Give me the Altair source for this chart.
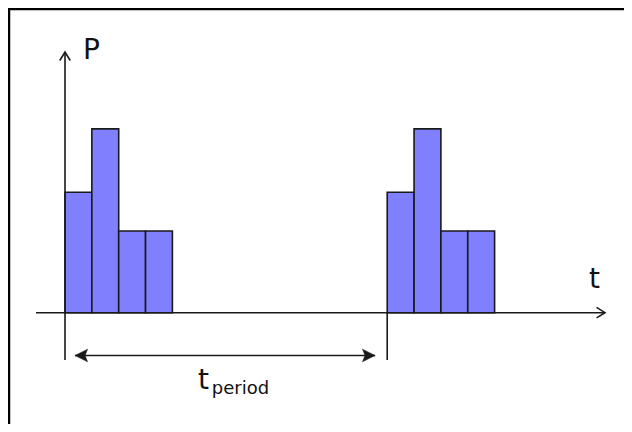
import altair as alt
import pandas as pd

# --- data (t in pulse-slot units, P in arbitrary power units) ---
bar_start = [0, 1, 2, 3, 12, 13, 14, 15]
bar_end = [1, 2, 3, 4, 13, 14, 15, 16]
bar_power = [2.95, 4.5, 2.0, 2.0, 2.95, 4.5, 2.0, 2.0]

# annotation segments (axes, period marker)
seg_x1 = [-1.08, 0, 12, 0.37]
seg_x2 = [20.11, 0, 12, 11.55]
seg_y1 = [0, -1.158, 0, -1.048]
seg_y2 = [0, 6.38, -1.158, -1.048]

# arrow heads
open_head_t = [20.11, 0]
open_head_p = [0, 6.38]
open_head_dir = ["right", "up"]
fill_head_t = [0.37, 11.55]
fill_head_p = [-1.048, -1.048]
fill_head_dir = ["left", "right"]

# labels
label_text = ["P", "t", "t", "period"]
label_t = [0.67, 19.52, 4.95, 5.47]
label_p = [6.20, 0.60, -1.87, -1.99]
label_size = [28, 28, 28, 18]

bars = pd.DataFrame({"t0": bar_start, "t1": bar_end, "P": bar_power})
segs = pd.DataFrame({"x1": seg_x1, "x2": seg_x2, "y1": seg_y1, "y2": seg_y2})
labels = pd.DataFrame({"text": label_text, "t": label_t, "p": label_p, "size": label_size})

W, H = 616, 416
xs = alt.Scale(domain=[-2.123, 20.819], nice=False, zero=False)
ys = alt.Scale(domain=[-2.725, 7.459], nice=False, zero=False)

LINE = "#1a1a1a"

bar_layer = alt.Chart(bars).mark_rect(
    fill="#8080ff", stroke=LINE, strokeWidth=1.6
).encode(
    x=alt.X("t0:Q", scale=xs, axis=None),
    x2="t1:Q",
    y=alt.Y("P:Q", scale=ys, axis=None),
    y2=alt.Y2(datum=0),
)

seg_layer = alt.Chart(segs).mark_rule(color=LINE, strokeWidth=1.6).encode(
    x=alt.X("x1:Q", scale=xs, axis=None),
    x2="x2:Q",
    y=alt.Y("y1:Q", scale=ys, axis=None),
    y2="y2:Q",
)

shapes = {
    "right_open": "M-1.6,-1L0,0L-1.6,1",
    "up_open": "M-1,1.6L0,0L1,1.6",
    "left_fill": "M0,0L2,-1L1.6,0L2,1Z",
    "right_fill": "M0,0L-2,-1L-1.6,0L-2,1Z",
}

head_layers = []
for t, p, d in zip(open_head_t, open_head_p, open_head_dir):
    head_layers.append(
        alt.Chart(pd.DataFrame({"t": [t], "p": [p]})).mark_point(
            shape=shapes[d + "_open"], size=110, filled=False,
            stroke=LINE, strokeWidth=1.6, opacity=1
        ).encode(
            x=alt.X("t:Q", scale=xs, axis=None),
            y=alt.Y("p:Q", scale=ys, axis=None),
        )
    )
for t, p, d in zip(fill_head_t, fill_head_p, fill_head_dir):
    head_layers.append(
        alt.Chart(pd.DataFrame({"t": [t], "p": [p]})).mark_point(
            shape=shapes[d + "_fill"], size=160, filled=True,
            fill=LINE, stroke=LINE, strokeWidth=0.5, opacity=1
        ).encode(
            x=alt.X("t:Q", scale=xs, axis=None),
            y=alt.Y("p:Q", scale=ys, axis=None),
        )
    )

text_layer = alt.Chart(labels).mark_text(
    align="left", baseline="alphabetic", font="DejaVu Sans", color="#111111"
).encode(
    x=alt.X("t:Q", scale=xs, axis=None),
    y=alt.Y("p:Q", scale=ys, axis=None),
    text="text:N",
    size=alt.Size("size:Q", scale=None, legend=None),
)

frame_left = alt.Chart(pd.DataFrame({"a": [0]})).mark_rule(color="black", strokeWidth=2.5).encode(
    x=alt.value(1), y=alt.value(0), y2=alt.value(H)
)
frame_top = alt.Chart(pd.DataFrame({"a": [0]})).mark_rule(color="black", strokeWidth=2.5).encode(
    y=alt.value(1), x=alt.value(0), x2=alt.value(W)
)

chart = alt.layer(
    bar_layer, seg_layer, *head_layers, text_layer, frame_left, frame_top
).properties(
    width=W, height=H, padding=0, autosize=alt.AutoSizeParams(type="none"),
    background="white",
).configure_view(strokeWidth=0, stroke="transparent")

chart.save("out.html", embed_options={"renderer": "svg", "actions": False})
